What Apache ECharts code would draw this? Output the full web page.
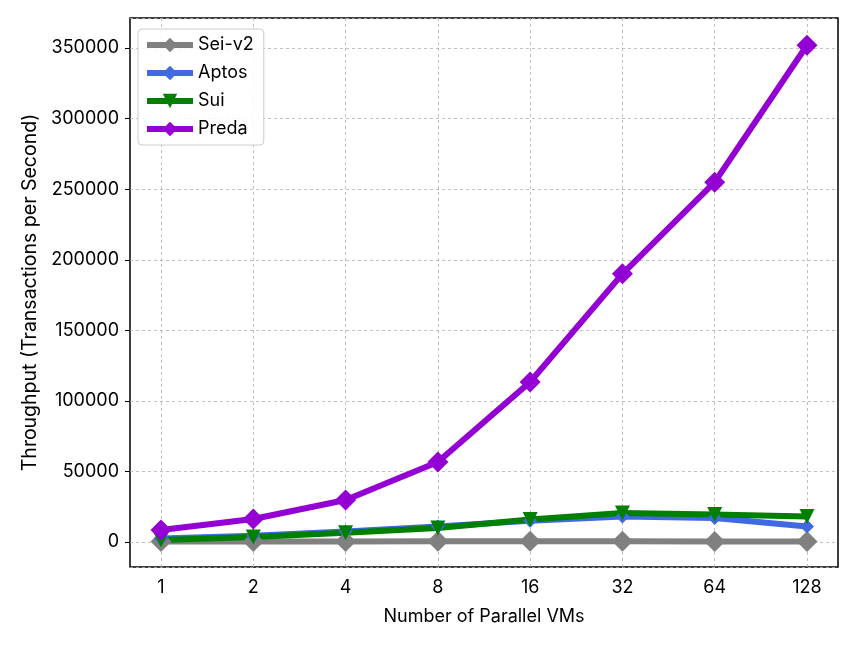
<!DOCTYPE html>
<html>
<head>
<meta charset="utf-8">
<title>Throughput vs parallel VMs</title>
<script src="https://cdn.jsdelivr.net/npm/echarts@6/dist/echarts.min.js"></script>
<style>
  html, body { margin: 0; padding: 0; background: #fff; }
  #chart { width: 860px; height: 645px; }
</style>
</head>
<body>
<div id="chart"></div>
<script>
// data
var vmCounts = ['1', '2', '4', '8', '16', '32', '64', '128'];
var seiV2 = [300, 400, 400, 500, 500, 500, 400, 300];
var aptos = [2500, 4500, 7500, 11000, 15000, 18000, 17000, 11000];
var sui = [1500, 3500, 6500, 10000, 16000, 20500, 19500, 18000];
var preda = [8500, 16300, 29800, 56700, 113400, 190000, 255000, 352000];
var yTicks = [0, 50000, 100000, 150000, 200000, 250000, 300000, 350000];

var Y_MIN = -17700, Y_MAX = 371300;
var FONT = 'Inter';
var FS = 18;

var chart = echarts.init(document.getElementById('chart'));

function mkSeries(name, data, color, symbol, size, rotate) {
  return {
    name: name,
    type: 'line',
    xAxisIndex: 1,
    yAxisIndex: 1,
    data: data,
    symbol: symbol,
    symbolSize: size,
    symbolRotate: rotate || 0,
    showAllSymbol: true,
    lineStyle: { color: color, width: 6 },
    itemStyle: { color: color },
    emphasis: { disabled: true },
    animation: false
  };
}

function legendItem(name, color) {
  return { name: name, lineStyle: { color: color, width: 6 } };
}

var option = {
  backgroundColor: '#fff',
  animation: false,
  textStyle: { fontFamily: FONT },
  grid: [
    { left: 130, right: 22, top: 18, bottom: 78, show: true, borderColor: '#000', borderWidth: 1.5, backgroundColor: 'transparent' },
    { left: 161, right: 53, top: 18, bottom: 78 }
  ],
  legend: {
    left: 138, top: 29,
    orient: 'vertical',
    itemWidth: 46, itemHeight: 18, itemGap: 10,
    padding: [7, 10, 7, 6],
    backgroundColor: 'rgba(255,255,255,0.85)',
    borderColor: '#cccccc', borderWidth: 1, borderRadius: 4,
    textStyle: { fontFamily: FONT, fontSize: FS, color: '#000' },
    data: [
      legendItem('Sei-v2', '#808080'),
      legendItem('Aptos', '#4169e1'),
      legendItem('Sui', '#008000'),
      legendItem('Preda', '#9400d3')
    ]
  },
  xAxis: [
    { gridIndex: 0, type: 'value', show: false, min: 0, max: 1 },
    {
      gridIndex: 1, type: 'category', data: vmCounts, boundaryGap: false,
      name: 'Number of Parallel VMs', nameLocation: 'middle', nameGap: 41,
      nameTextStyle: { fontFamily: FONT, fontSize: FS, color: '#000' },
      axisLine: { show: false },
      axisTick: { show: true, alignWithLabel: true, length: 5, lineStyle: { color: '#000', width: 1 } },
      axisLabel: { fontFamily: FONT, fontSize: FS, color: '#000', margin: 12 },
      splitLine: { show: true, lineStyle: { color: '#b0b0b0', width: 0.8, type: [3, 3] } }
    }
  ],
  yAxis: [
    {
      gridIndex: 0, type: 'value', min: Y_MIN, max: Y_MAX, splitNumber: 8,
      name: 'Throughput (Transactions per Second)', nameLocation: 'middle', nameGap: 87,
      nameTextStyle: { fontFamily: FONT, fontSize: 19.5, color: '#000' },
      axisLine: { show: false },
      axisTick: { show: true, length: 5, lineStyle: { color: '#000', width: 1 } },
      axisLabel: {
        fontFamily: FONT, fontSize: FS, color: '#000', margin: 11,
        showMinLabel: false, showMaxLabel: false,
        formatter: function (v) { return yTicks.indexOf(v) >= 0 ? String(v) : ''; }
      },
      splitLine: { show: true, lineStyle: { color: '#b0b0b0', width: 0.8, type: [3, 3] } }
    },
    { gridIndex: 1, type: 'value', min: Y_MIN, max: Y_MAX, show: false }
  ],
  series: [
    mkSeries('Sei-v2', seiV2, '#808080', 'diamond', 21),
    mkSeries('Aptos', aptos, '#4169e1', 'diamond', 14),
    mkSeries('Sui', sui, '#008000', 'triangle', 15, 180),
    mkSeries('Preda', preda, '#9400d3', 'diamond', 21)
  ]
};

chart.setOption(option);
</script>
</body>
</html>
